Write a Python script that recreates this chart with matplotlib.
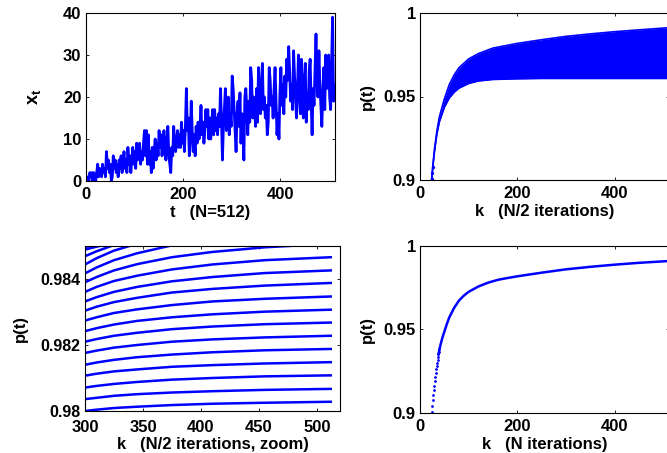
import numpy as np
import matplotlib.pyplot as plt

plt.rcParams['font.family'] = ['Liberation Sans', 'DejaVu Sans']
plt.rcParams['font.weight'] = 'bold'
plt.rcParams['font.size'] = 12
plt.rcParams['mathtext.fontset'] = 'custom'
plt.rcParams['mathtext.bf'] = 'Liberation Sans:bold'
plt.rcParams['axes.linewidth'] = 0.8

# x_t, read every 2nd step (t = 1, 3, ..., 511)
x_t = [0, 0, 1, 0, 2, 1, 2, 0, 2, 1, 0, 2, 4, 1, 3, 2,
       1, 4, 2, 3, 1, 7, 3, 5, 2, 4, 0, 1, 6, 3, 5, 2,
       4, 1, 5, 3, 6, 2, 4, 7, 3, 5, 2, 8, 4, 6, 2, 5,
       8, 4, 7, 3, 9, 5, 6, 9, 4, 7, 5, 9, 12, 6, 12, 4,
       11, 4, 7, 2, 8, 3, 7, 10, 5, 9, 6, 12, 8, 11, 6, 9,
       12, 7, 5, 10, 13, 6, 4, 2, 8, 6, 13, 9, 7, 10, 12, 8,
       11, 8, 14, 9, 12, 7, 13, 22, 12, 15, 6, 10, 19, 12, 7, 11,
       6, 13, 9, 14, 10, 13, 18, 11, 14, 9, 12, 17, 13, 17, 10, 15,
       10, 14, 17, 11, 17, 12, 15, 11, 16, 13, 22, 15, 5, 13, 17, 22,
       12, 15, 20, 11, 16, 13, 25, 22, 17, 12, 7, 16, 19, 13, 21, 9,
       16, 13, 5, 20, 22, 17, 11, 19, 14, 27, 24, 15, 20, 17, 13, 22,
       14, 27, 20, 16, 23, 28, 17, 20, 15, 18, 11, 14, 27, 24, 18, 20,
       15, 22, 27, 19, 11, 16, 10, 21, 27, 18, 23, 16, 25, 20, 29, 24,
       32, 26, 19, 23, 17, 31, 25, 20, 15, 22, 30, 21, 16, 29, 20, 15,
       24, 28, 14, 21, 17, 26, 29, 19, 11, 22, 18, 27, 35, 24, 20, 31,
       23, 18, 13, 21, 27, 17, 30, 22, 25, 30, 20, 17, 28, 39, 19, 23]
t = np.arange(1, 512, 2)

# band of p(t), N/2 iterations
k_band = [24, 27, 30, 35, 40, 50, 60, 70, 80, 100, 120, 150, 200, 250, 300, 350, 400, 450, 512]
p_band_up = [0.9005, 0.9105, 0.9190, 0.9300, 0.9380, 0.9485, 0.9570, 0.9628, 0.9672, 0.9725,
             0.9757, 0.9790, 0.9818, 0.9840, 0.9860, 0.9875, 0.9888, 0.9899, 0.9912]
p_band_lo = [0.9005, 0.9095, 0.9175, 0.9280, 0.9350, 0.9435, 0.9490, 0.9525, 0.9550, 0.9578,
             0.9593, 0.9602, 0.9606, 0.9608, 0.9608, 0.9608, 0.9608, 0.9608, 0.9608]

# zoom: curves read at these k
k_zoom = [300, 310, 325, 345, 375, 410, 455, 512]
p_zoom = [
    [0.98000, 0.98004, 0.98009, 0.98013, 0.98018, 0.98022, 0.98025, 0.98028],
    [0.98036, 0.98040, 0.98046, 0.98051, 0.98056, 0.98060, 0.98064, 0.98067],
    [0.98071, 0.98076, 0.98082, 0.98088, 0.98095, 0.98100, 0.98105, 0.98108],
    [0.98107, 0.98113, 0.98120, 0.98126, 0.98134, 0.98139, 0.98144, 0.98148],
    [0.98140, 0.98147, 0.98155, 0.98163, 0.98171, 0.98178, 0.98184, 0.98188],
    [0.98176, 0.98183, 0.98192, 0.98200, 0.98210, 0.98217, 0.98223, 0.98228],
    [0.98210, 0.98218, 0.98228, 0.98237, 0.98248, 0.98256, 0.98263, 0.98268],
    [0.98242, 0.98251, 0.98262, 0.98273, 0.98284, 0.98293, 0.98301, 0.98307],
    [0.98274, 0.98284, 0.98297, 0.98308, 0.98321, 0.98332, 0.98340, 0.98347],
    [0.98304, 0.98316, 0.98330, 0.98343, 0.98359, 0.98370, 0.98380, 0.98388],
    [0.98332, 0.98345, 0.98361, 0.98376, 0.98393, 0.98406, 0.98418, 0.98426],
    [0.98361, 0.98376, 0.98394, 0.98410, 0.98429, 0.98444, 0.98457, 0.98466],
    [0.98390, 0.98406, 0.98426, 0.98445, 0.98466, 0.98482, 0.98496, 0.98507],
    [0.98417, 0.98435, 0.98457, 0.98478, 0.98502, 0.98520, 0.98535, 0.98547],
    [0.98444, 0.98463, 0.98486, 0.98507, 0.98532, 0.98551, 0.98567, 0.98579],
    [0.98469, 0.98484, 0.98503, 0.98523, 0.98545, 0.98562, 0.98575, 0.98585],
    [0.98489, 0.98498, 0.98510, 0.98530, 0.98550, 0.98566, 0.98580, 0.98590],
    [0.98497, 0.98503, 0.98514, 0.98535, 0.98555, 0.98570, 0.98582, 0.98592],
    [0.98502, 0.98513, 0.98530, 0.98545, 0.98562, 0.98576, 0.98588, 0.98597],
]

# p(t), N iterations
k_n = [24, 25, 26, 27, 28, 29, 30, 31, 32, 33, 34, 35, 36, 37, 38, 39, 40,
       42, 44, 46, 48, 50, 55, 60, 70, 80, 90, 100, 120, 140, 160, 180,
       200, 250, 300, 350, 400, 450, 512]
p_n = [0.9005, 0.9040, 0.9075, 0.9105, 0.9135, 0.9163, 0.9190, 0.9215, 0.9238, 0.9260,
       0.9280, 0.9300, 0.9318, 0.9335, 0.9351, 0.9366, 0.9380,
       0.9405, 0.9428, 0.9449, 0.9468, 0.9485, 0.9530, 0.9570, 0.9628, 0.9672, 0.9702,
       0.9725, 0.9757, 0.9780, 0.9797, 0.9808, 0.9818, 0.9840, 0.9860, 0.9875, 0.9888,
       0.9899, 0.9910]

p_ticks = [0.9, 0.95, 1.0]
p_ticklabels = ['0.9', '0.95', '1']
zoom_yticks = [0.98, 0.982, 0.984]
zoom_yticklabels = ['0.98', '0.982', '0.984']

W, H = 667, 453
fig = plt.figure(figsize=(W / 100, H / 100), dpi=100)


def add_ax(x0, y0, x1, y1):
    # pixel box -> figure fraction
    ax = fig.add_axes([x0 / W, 1 - y1 / H, (x1 - x0) / W, (y1 - y0) / H])
    ax.tick_params(direction='in', top=True, right=True, length=2.5, width=0.6, pad=3,
                   labelsize=12)
    ax.tick_params(axis='x', pad=4.5)
    return ax


blue = (0, 0, 1)

# top left
ax1 = add_ax(85.5, 13, 335, 181)
ax1.plot(t, x_t, color=blue, lw=2)
ax1.set_xlim(0, 512)
ax1.set_ylim(0, 40)
ax1.set_xticks([0, 200, 400])
ax1.set_yticks([0, 10, 20, 30, 40])
ax1.set_xlabel('t   (N=512)', fontweight='bold')
ax1.set_ylabel(r'$\mathbf{x_t}$', fontsize=13)
ax1.xaxis.set_label_coords(0.5, -0.14)
ax1.yaxis.set_label_coords(-0.17, 0.5)

# top right
ax2 = add_ax(420, 13, 669, 180)
ax2.fill_between(k_band, p_band_lo, p_band_up, color=blue, lw=0)
ax2.plot(k_band, p_band_up, color=blue, lw=1.2)
ax2.plot(k_band, p_band_lo, color=blue, lw=1.2)
ax2.plot(k_n[:3], p_n[:3], 'o', color=blue, ms=2.4, mew=0)
ax2.set_xlim(0, 512)
ax2.set_ylim(0.9, 1.0)
ax2.set_xticks([0, 200, 400])
ax2.set_yticks(p_ticks)
ax2.set_yticklabels(p_ticklabels)
ax2.set_xlabel('k   (N/2 iterations)', fontweight='bold')
ax2.set_ylabel('p(t)', fontweight='bold')
ax2.xaxis.set_label_coords(0.5, -0.145)
ax2.yaxis.set_label_coords(-0.18, 0.5)

# bottom left
ax3 = add_ax(85, 246, 340, 411)
for curve in p_zoom:
    ax3.plot(k_zoom, curve, color=blue, lw=1.8)
ax3.set_xlim(300, 520)
ax3.set_ylim(0.98, 0.985)
ax3.set_xticks([300, 350, 400, 450, 500])
ax3.set_yticks(zoom_yticks)
ax3.set_yticklabels(zoom_yticklabels)
ax3.tick_params(axis='x', pad=6.5)
ax3.tick_params(axis='y', labelsize=11.5)
ax3.set_xlabel('k   (N/2 iterations, zoom)', fontweight='bold')
ax3.set_ylabel('p(t)', fontweight='bold')
ax3.xaxis.set_label_coords(0.5, -0.155)
ax3.yaxis.set_label_coords(-0.225, 0.5)

# bottom right
ax4 = add_ax(420, 246, 669, 412.7)
ax4.plot(k_n[:17], p_n[:17], 'o', color=blue, ms=2, mew=0)
ax4.plot(k_n[14:], p_n[14:], color=blue, lw=1.8)
ax4.set_xlim(0, 512)
ax4.set_ylim(0.9, 1.0)
ax4.set_xticks([0, 200, 400])
ax4.set_yticks(p_ticks)
ax4.set_yticklabels(p_ticklabels)
ax4.set_xlabel('k   (N iterations)', fontweight='bold')
ax4.set_ylabel('p(t)', fontweight='bold')
ax4.xaxis.set_label_coords(0.5, -0.145)
ax4.yaxis.set_label_coords(-0.18, 0.5)

fig.savefig('out.png', dpi=100)
